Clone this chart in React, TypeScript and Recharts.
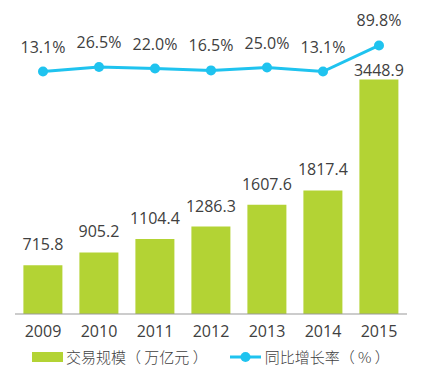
import { Bar, ComposedChart, LabelList, Legend, Line, XAxis, YAxis } from "recharts"

const years = ["2009", "2010", "2011", "2012", "2013", "2014", "2015"]
const scale = [715.8, 905.2, 1104.4, 1286.3, 1607.6, 1817.4, 3448.9]
const growth = [13.1, 26.5, 22.0, 16.5, 25.0, 13.1, 89.8]

const GREEN = "#b3d334"
const CYAN = "#1fc3ef"
const TEXT = "#404040"
const FONT = "'Open Sans', 'Noto Sans CJK SC', sans-serif"
const CJK = "'Noto Sans CJK SC', sans-serif"

const data = years.map((year, i) => ({ year, scale: scale[i], growth: growth[i] }))

function BarLabel(props: any) {
  const { x, y, width, value, index } = props
  // last bar label sits tight on the bar so it clears the line
  const gap = index === data.length - 1 ? 3 : 15
  return (
    <text x={x + width / 2} y={y - gap} textAnchor="middle" fill={TEXT} fontSize={16} fontFamily={FONT}>
      {Number(value).toFixed(1)}
    </text>
  )
}

function LegendContent() {
  return (
    <div style={{ display: "flex", alignItems: "center", fontFamily: CJK, fontSize: 15, color: TEXT, fontWeight: 300 }}>
      <span style={{ display: "inline-block", width: 31, height: 10, background: GREEN, marginLeft: 32, marginRight: 3 }} />
      <span>交易规模（ 万亿元 ）</span>
      <svg width={31} height={12} style={{ marginLeft: 22, marginRight: 4 }}>
        <line x1={0} y1={6} x2={31} y2={6} stroke={CYAN} strokeWidth={3} />
        <circle cx={15.5} cy={6} r={5} fill={CYAN} />
      </svg>
      <span>同比增长率（ % ）</span>
    </div>
  )
}

export default function App() {
  return (
    <div style={{ position: "absolute", left: 0, top: 0, background: "#fff" }}>
      <ComposedChart width={426} height={372} data={data} margin={{ top: 42, right: 19, left: 15, bottom: 28 }} barCategoryGap="15%">
        <XAxis
          dataKey="year"
          axisLine={{ stroke: "#999" }}
          tickLine={false}
          tickMargin={6}
          tick={{ fill: TEXT, fontSize: 16, fontFamily: FONT }}
          height={30}
        />
        <YAxis yAxisId="left" hide domain={[0, 4000]} />
        <YAxis yAxisId="right" orientation="right" hide domain={[-700, 100]} />
        <Legend
          layout="horizontal"
          verticalAlign="middle"
          align="center"
          content={<LegendContent />}
          wrapperStyle={{ top: 346, left: 0, width: 426 }}
        />
        <Bar yAxisId="left" dataKey="scale" fill={GREEN} isAnimationActive={false}>
          <LabelList dataKey="scale" content={<BarLabel />} />
        </Bar>
        <Line
          yAxisId="right"
          dataKey="growth"
          stroke={CYAN}
          strokeWidth={3}
          dot={{ r: 5, fill: CYAN, stroke: CYAN, strokeWidth: 0 }}
          isAnimationActive={false}
        >
          <LabelList
            dataKey="growth"
            position="top"
            offset={19}
            fill={TEXT}
            fontSize={16}
            fontFamily={FONT}
            formatter={(v: any) => `${Number(v).toFixed(1)}%`}
          />
        </Line>
      </ComposedChart>
    </div>
  )
}
